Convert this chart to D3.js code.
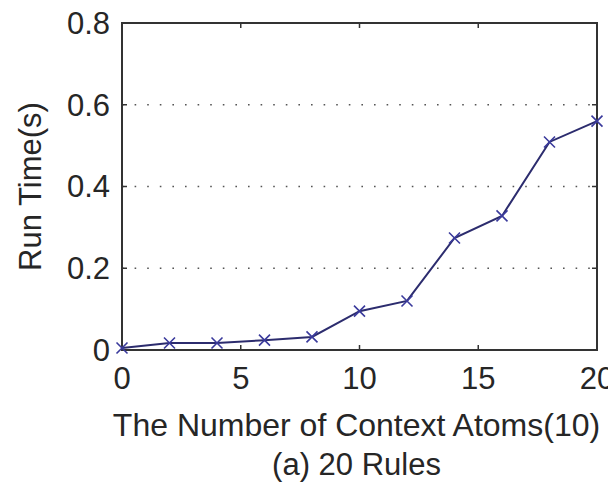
<!DOCTYPE html>
<html lang="en">
<head>
<meta charset="UTF-8">
<title>Run Time - 20 Rules</title>
<script src="https://cdnjs.cloudflare.com/ajax/libs/d3/7.8.5/d3.min.js"></script>
<style>
    body { margin: 0; background: #fff; }
    svg text { font-family: 'Liberation Sans', Arial, sans-serif; fill: #262626; }
</style>
</head>
<body>
<svg id="chart" width="608" height="485"></svg>
<script>
// data
const atoms = [0, 2, 4, 6, 8, 10, 12, 14, 16, 18, 20];
const runTime = [0.005, 0.017, 0.017, 0.024, 0.032, 0.095, 0.12, 0.274, 0.328, 0.509, 0.56];
const xTicks = [0, 5, 10, 15, 20];
const yTicks = [0, 0.2, 0.4, 0.6, 0.8];
const gridTicks = [0.2, 0.4, 0.6];

const margin = { left: 122, right: 11, top: 23, bottom: 135 };
const W = 608, H = 485;
const svg = d3.select("#chart");

const x = d3.scaleLinear().domain([0, 20]).range([margin.left, W - margin.right]);
const y = d3.scaleLinear().domain([0, 0.8]).range([H - margin.bottom, margin.top]);

const axisColor = "#333";

// dotted grid
svg.append("g").selectAll("line").data(gridTicks).join("line")
    .attr("x1", x(0)).attr("x2", x(20))
    .attr("y1", d => y(d)).attr("y2", d => y(d))
    .attr("stroke", "#555").attr("stroke-width", 1.6)
    .attr("stroke-dasharray", "1.6,11");

// inner ticks, all four sides
const tk = 5;
const g = svg.append("g").attr("stroke", axisColor).attr("stroke-width", 1.5);
xTicks.forEach(v => {
    g.append("line").attr("x1", x(v)).attr("x2", x(v)).attr("y1", y(0)).attr("y2", y(0) - tk);
    g.append("line").attr("x1", x(v)).attr("x2", x(v)).attr("y1", y(0.8)).attr("y2", y(0.8) + tk);
});
yTicks.forEach(v => {
    g.append("line").attr("x1", x(0)).attr("x2", x(0) + tk).attr("y1", y(v)).attr("y2", y(v));
    g.append("line").attr("x1", x(20)).attr("x2", x(20) - tk).attr("y1", y(v)).attr("y2", y(v));
});

// box
svg.append("rect")
    .attr("x", x(0)).attr("y", y(0.8))
    .attr("width", x(20) - x(0)).attr("height", y(0) - y(0.8))
    .attr("fill", "none").attr("stroke", axisColor).attr("stroke-width", 2);

// tick labels
svg.append("g").selectAll("text").data(xTicks).join("text")
    .attr("x", d => x(d)).attr("y", 389)
    .attr("text-anchor", "middle").attr("font-size", 31)
    .text(d => d);
svg.append("g").selectAll("text").data(yTicks).join("text")
    .attr("x", 110).attr("y", d => y(d))
    .attr("dy", "0.35em")
    .attr("text-anchor", "end").attr("font-size", 31)
    .text(d => d === 0 ? "0" : d3.format(".1f")(d));

// series line
const line = d3.line().x((d, i) => x(atoms[i])).y(d => y(d));
svg.append("path").datum(runTime)
    .attr("d", line)
    .attr("fill", "none").attr("stroke", "#2c2c6e").attr("stroke-width", 2);

// x markers
const m = 5.5;
svg.append("g").selectAll("path").data(runTime).join("path")
    .attr("d", (d, i) => {
        const cx = x(atoms[i]), cy = y(d);
        return `M${cx - m},${cy - m}L${cx + m},${cy + m}M${cx - m},${cy + m}L${cx + m},${cy - m}`;
    })
    .attr("stroke", "#3a3a9c").attr("stroke-width", 1.6).attr("fill", "none");

// axis labels
svg.append("text")
    .attr("x", (x(0) + x(20)) / 2 - 3).attr("y", 436)
    .attr("text-anchor", "middle").attr("font-size", 32)
    .text("The Number of Context Atoms(10)");
svg.append("text")
    .attr("x", (x(0) + x(20)) / 2 - 3).attr("y", 475)
    .attr("text-anchor", "middle").attr("font-size", 31)
    .text("(a) 20 Rules");
svg.append("text")
    .attr("transform", `translate(41,${(y(0) + y(0.8)) / 2}) rotate(-90)`)
    .attr("text-anchor", "middle").attr("font-size", 31)
    .text("Run Time(s)");
</script>
</body>
</html>
